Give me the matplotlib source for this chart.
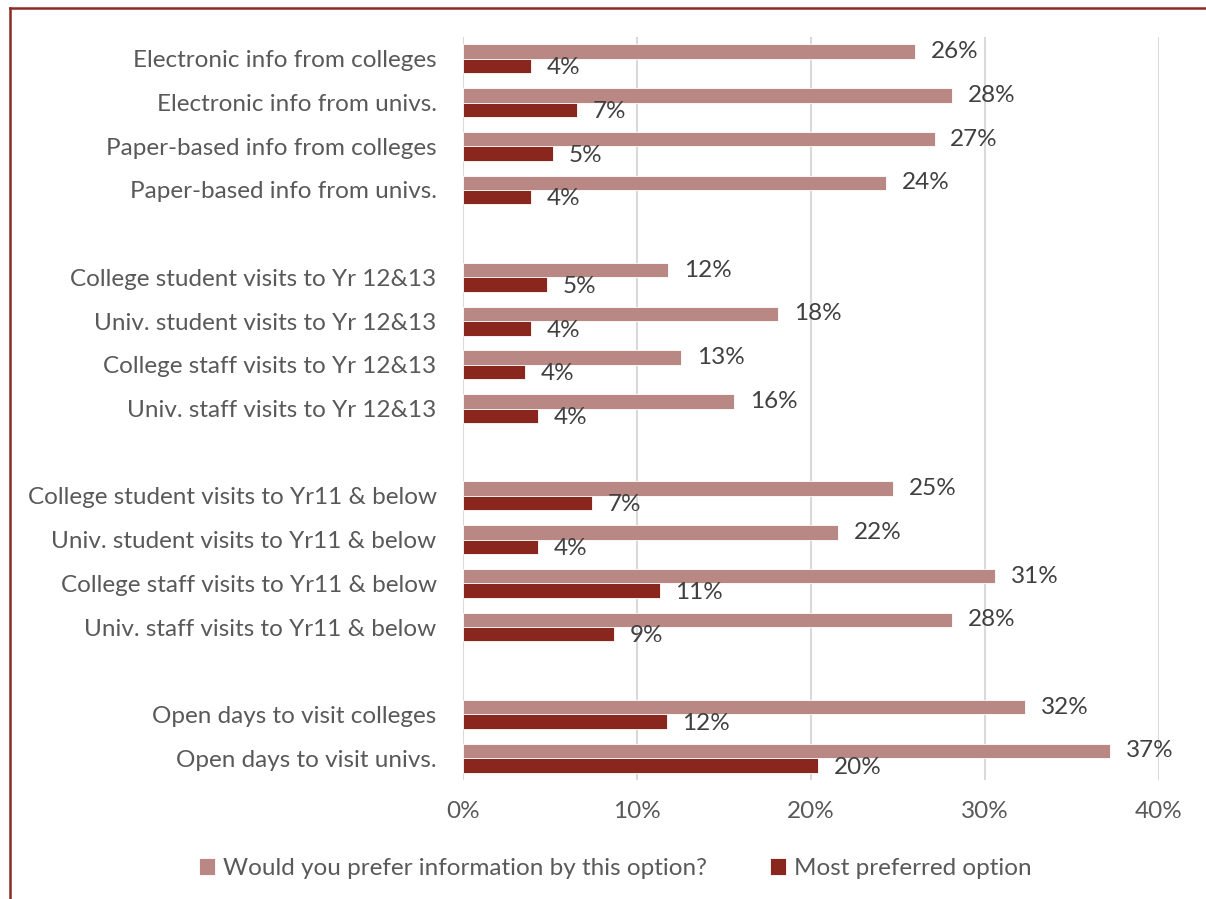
import matplotlib.pyplot as plt
from matplotlib.lines import Line2D

plt.rcParams["font.family"] = ["Lato", "DejaVu Sans"]

# survey options, top to bottom, split into their four groups
groups = [
    [
        "Electronic info from colleges",
        "Electronic info from univs.",
        "Paper-based info from colleges",
        "Paper-based info from univs.",
    ],
    [
        "College student visits to Yr 12&13",
        "Univ. student visits to Yr 12&13",
        "College staff visits to Yr 12&13",
        "Univ. staff visits to Yr 12&13",
    ],
    [
        "College student visits to Yr11 & below",
        "Univ. student visits to Yr11 & below",
        "College staff visits to Yr11 & below",
        "Univ. staff visits to Yr11 & below",
    ],
    [
        "Open days to visit colleges",
        "Open days to visit univs.",
    ],
]

# percentages, same order as the labels above
would_prefer = [26.0, 28.1, 27.1, 24.3,
                11.8, 18.1, 12.55, 15.6,
                24.7, 21.55, 30.6, 28.1,
                32.3, 37.2]
most_preferred = [3.9, 6.55, 5.2, 3.9,
                  4.8, 3.9, 3.55, 4.3,
                  7.4, 4.3, 11.3, 8.7,
                  11.7, 20.4]

series_names = ["Would you prefer information by this option?", "Most preferred option"]
light = "#B98885"
dark = "#89261E"
text_col = "#595959"
fs = 17.5

# one empty slot between groups
labels, pos = [], []
slot = 0
for g in groups:
    for name in g:
        labels.append(name)
        pos.append(slot)
        slot += 1
    slot += 1
n_slots = slot - 1

fig = plt.figure(figsize=(12.06, 8.99), dpi=100)
ax = fig.add_axes([0.3839, 0.1324, 0.5771, 0.8264])

h = 0.33
y_light = [p - h / 2 for p in pos]
y_dark = [p + h / 2 for p in pos]
ax.barh(y_light, would_prefer, height=h, color=light, edgecolor="white",
        linewidth=0.6, label=series_names[0], zorder=3)
ax.barh(y_dark, most_preferred, height=h, color=dark, edgecolor="white",
        linewidth=0.6, label=series_names[1], zorder=3)

for y, v in zip(y_light, would_prefer):
    ax.text(v + 0.9, y, f"{v:.0f}%", va="center", ha="left",
            fontsize=fs, color="#404040")
for y, v in zip(y_dark, most_preferred):
    ax.text(v + 0.9, y + 0.04, f"{v:.0f}%", va="center", ha="left",
            fontsize=fs, color="#404040")

ax.set_xlim(0, 40)
ax.set_ylim(n_slots - 0.5, -0.5)
ax.set_xticks([0, 10, 20, 30, 40])
ax.set_xticklabels([f"{t}%" for t in [0, 10, 20, 30, 40]])
ax.set_yticks(pos)
ax.set_yticklabels(labels)
ax.tick_params(axis="both", length=0, labelsize=fs, labelcolor=text_col)
ax.tick_params(axis="y", pad=19)
ax.tick_params(axis="x", pad=15)

ax.grid(axis="x", color="#D9D9D9", linewidth=1.5, zorder=0)
for s in ax.spines.values():
    s.set_visible(False)

fig.legend(loc="center", bbox_to_anchor=(0.51, 0.034), ncol=2, frameon=False,
           fontsize=fs, labelcolor=text_col, handlelength=0.68, handleheight=0.68,
           handletextpad=0.3, columnspacing=2.6)

# chart border, only the left and top edges show
border = dict(transform=fig.transFigure, color="#8B2A20", linewidth=1.8)
x0, y0 = 10 / 1206, 1 - 8 / 899
fig.add_artist(Line2D([x0, x0], [0, y0], **border))
fig.add_artist(Line2D([x0, 1], [y0, y0], **border))

fig.savefig("out.png", dpi=100)
